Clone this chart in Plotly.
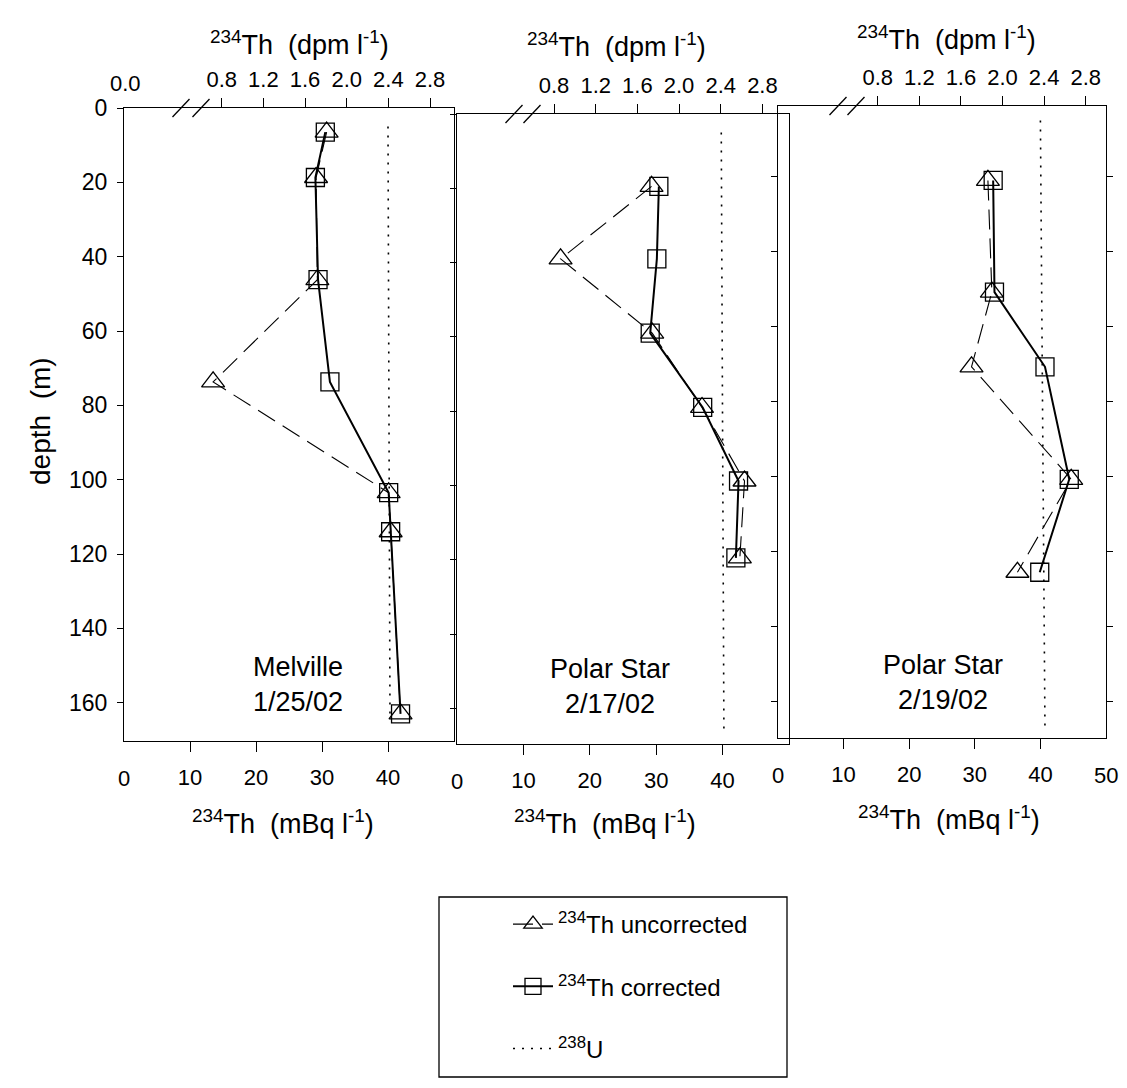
import plotly.graph_objects as go

W, H = 1127, 1088
FONT = "Liberation Sans, Arial, sans-serif"

# ---------------- data (mBq/l vs depth m) ----------------
# Melville 1/25/02
mel_depth = [6.5, 18.7, 46.2, 73.7, 103.5, 114.0, 163.0]
mel_unc = [30.7, 29.1, 29.3, 13.5, 40.1, 40.4, 41.9]
mel_cor = [30.5, 29.0, 29.4, 31.2, 40.1, 40.4, 41.9]
mel_u_depth = [5.0, 163.0]
mel_u = [40.0, 40.3]

# Polar Star 2/17/02
ps17_depth = [19.5, 39.0, 59.0, 79.0, 98.8, 119.5]
ps17_unc = [29.3, 15.6, 29.4, 36.9, 43.3, 42.6]
ps17_cor = [30.4, 30.1, 29.1, 37.0, 42.4, 42.0]
ps17_u_depth = [5.0, 167.0]
ps17_u = [39.8, 40.2]

# Polar Star 2/19/02
ps19_depth = [21.0, 50.8, 70.7, 100.7, 125.5]
ps19_unc = [32.0, 32.6, 29.5, 44.7, 36.5]
ps19_cor = [32.8, 33.0, 40.7, 44.4, 39.9]
ps19_u_depth = [5.0, 168.0]
ps19_u = [40.0, 40.7]

depth_ticks = [0, 20, 40, 60, 80, 100, 120, 140, 160]
mbq_ticks = [10, 20, 30, 40]          # inner ticks of the mBq axis
mbq_end_labels = [[0], [0], [0, 50]]  # end labels drawn without a tick mark
dpm_ticks = [0.8, 1.2, 1.6, 2.0, 2.4, 2.8]
dpm_labels = ["0.8", "1.2", "1.6", "2.0", "2.4", "2.8"]

station_labels = ["Melville<br>1/25/02", "Polar Star<br>2/17/02", "Polar Star<br>2/19/02"]
series = [
    (mel_depth, mel_unc, mel_cor, mel_u_depth, mel_u),
    (ps17_depth, ps17_unc, ps17_cor, ps17_u_depth, ps17_u),
    (ps19_depth, ps19_unc, ps19_cor, ps19_u_depth, ps19_u),
]


def fx(p):
    return p / W


def fy(p):
    return 1 - p / H


# panel geometry (pixels) and axis ranges
panels = [
    dict(x=(124, 454), y=(741, 108), yr=[170.3, 0], top=[-0.138, 3.030],
         slash=(181, 201), lab=(298, 684), ttop=(299, 62), tbot=(283, 822)),
    dict(x=(457, 789), y=(744, 114), yr=[169.6, 0], top=[-0.131, 3.055],
         slash=(514, 532), lab=(610, 686), ttop=(616, 64), tbot=(605, 822)),
    dict(x=(778, 1106), y=(738, 106), yr=[169.7, 1.15], top=[-0.159, 2.995],
         slash=(838, 856), lab=(943, 682), ttop=(946, 57), tbot=(949, 818)),
]

fig = go.Figure()
layout = dict(
    template="none",
    width=W, height=H, autosize=False,
    margin=dict(l=0, r=0, t=0, b=0, pad=0),
    paper_bgcolor="white", plot_bgcolor="rgba(0,0,0,0)",
    font=dict(family=FONT, size=22, color="black"),
    showlegend=True,
)

annotations = []
shapes = []

for i, (pn, (dep, unc, cor, ud, uv)) in enumerate(zip(panels, series)):
    n = i + 1
    xa = "x" if n == 1 else f"x{n}"
    ya = "y" if n == 1 else f"y{n}"
    xt = f"x{n + 3}"
    first = (i == 0)

    fig.add_trace(go.Scatter(
        x=unc, y=dep, xaxis=xa, yaxis=ya, mode="lines+markers",
        name="<sup>234</sup>Th uncorrected", legendgroup="unc", legendrank=1,
        showlegend=first,
        line=dict(color="black", width=1.1, dash="20px,9px"),
        marker=dict(symbol="triangle-up-open", size=20, color="black", line=dict(width=1.3)),
    ))
    fig.add_trace(go.Scatter(
        x=cor, y=dep, xaxis=xa, yaxis=ya, mode="lines+markers",
        name="<sup>234</sup>Th corrected", legendgroup="cor", legendrank=2,
        showlegend=first,
        line=dict(color="black", width=2),
        marker=dict(symbol="square-open", size=18, color="black", line=dict(width=1.3)),
    ))
    fig.add_trace(go.Scatter(
        x=uv, y=ud, xaxis=xa, yaxis=ya, mode="lines",
        name="<sup>238</sup>U", legendgroup="u", legendrank=3,
        showlegend=first,
        line=dict(color="black", width=1.6, dash="2px,7px"),
    ))
    # empty trace to activate the top (dpm) axis
    fig.add_trace(go.Scatter(x=[], y=[], xaxis=xt, yaxis=ya, showlegend=False, hoverinfo="skip"))

    xl, xr = pn["x"]
    yb, ytp = pn["y"]

    key_x = "xaxis" if n == 1 else f"xaxis{n}"
    key_y = "yaxis" if n == 1 else f"yaxis{n}"
    layout[key_x] = dict(
        domain=[fx(xl), fx(xr)], anchor=ya, range=[0, 50], automargin=False,
        tickvals=mbq_ticks, ticktext=[str(v) for v in mbq_ticks],
        ticks="outside", ticklen=10, tickwidth=1.2, tickcolor="black",
        showline=True, linecolor="black", linewidth=1.2, mirror=False,
        showgrid=False, zeroline=False, tickfont=dict(size=22),
        ticklabelstandoff=6,
    )
    layout[key_y] = dict(
        domain=[fy(yb), fy(ytp)], anchor=xa, range=pn["yr"], automargin=False,
        tickvals=depth_ticks, ticks="outside", ticklen=6, tickwidth=1.2, tickcolor="black",
        showticklabels=first, tickfont=dict(size=23), ticklabelstandoff=5,
        showline=True, linecolor="black", linewidth=1.2,
        mirror=("ticks" if n == 3 else True),
        showgrid=False, zeroline=False,
    )
    layout[f"xaxis{n + 3}"] = dict(
        overlaying=xa, side="top", anchor=ya, range=pn["top"], automargin=False,
        tickvals=dpm_ticks, ticktext=dpm_labels,
        ticks="outside", ticklen=9, tickwidth=1.2, tickcolor="black",
        showline=True, linecolor="black", linewidth=1.2,
        showgrid=False, zeroline=False, tickfont=dict(size=22),
        ticklabelstandoff=2,
    )

    # end labels of the mBq axis (no tick mark in the original)
    for v in mbq_end_labels[i]:
        annotations.append(dict(x=v, y=fy(yb + 37), xref=xa, yref="paper", text=str(v),
                                showarrow=False, font=dict(size=22),
                                xanchor="center", yanchor="middle"))

    # axis break marks on the top axis
    for sx in pn["slash"]:
        shapes.append(dict(type="line", xref="paper", yref="paper",
                           x0=fx(sx - 8.5), y0=fy(ytp + 9), x1=fx(sx + 8.5), y1=fy(ytp - 9),
                           line=dict(color="black", width=1.3)))

    # station labels
    annotations.append(dict(x=fx(pn["lab"][0]), y=fy(pn["lab"][1]), xref="paper", yref="paper",
                            text=station_labels[i], showarrow=False, align="center",
                            font=dict(size=27), xanchor="center", yanchor="middle"))
    # axis titles
    annotations.append(dict(x=fx(pn["ttop"][0]), y=fy(pn["ttop"][1]), xref="paper", yref="paper",
                            text="<sup>234</sup>Th  (dpm l<sup>-1</sup>)", showarrow=False,
                            font=dict(size=27), xanchor="center", yanchor="bottom"))
    annotations.append(dict(x=fx(pn["tbot"][0]), y=fy(pn["tbot"][1]), xref="paper", yref="paper",
                            text="<sup>234</sup>Th  (mBq l<sup>-1</sup>)", showarrow=False,
                            font=dict(size=27), xanchor="center", yanchor="middle"))

# "0.0" label at the start of the broken top axis of the first panel
annotations.append(dict(x=fx(125), y=fy(84), xref="paper", yref="paper", text="0.0",
                        showarrow=False, font=dict(size=22), xanchor="center", yanchor="middle"))
# depth title
annotations.append(dict(x=fx(40), y=fy(421), xref="paper", yref="paper", text="depth  (m)",
                        showarrow=False, textangle=-90, font=dict(size=28),
                        xanchor="center", yanchor="middle"))

# legend frame
shapes.append(dict(type="rect", xref="paper", yref="paper",
                   x0=fx(439), y0=fy(1077), x1=fx(787), y1=fy(897),
                   line=dict(color="black", width=1.3), fillcolor="rgba(0,0,0,0)"))

layout["annotations"] = annotations
layout["shapes"] = shapes
layout["legend"] = dict(
    x=fx(508), y=fy(902), xanchor="left", yanchor="top",
    bgcolor="rgba(0,0,0,0)", borderwidth=0,
    font=dict(size=24), tracegroupgap=28, itemwidth=40,
)

fig.update_layout(**layout)
fig.write_html("out.html", config={"displayModeBar": False},
               post_script="document.body.style.margin='0';")
